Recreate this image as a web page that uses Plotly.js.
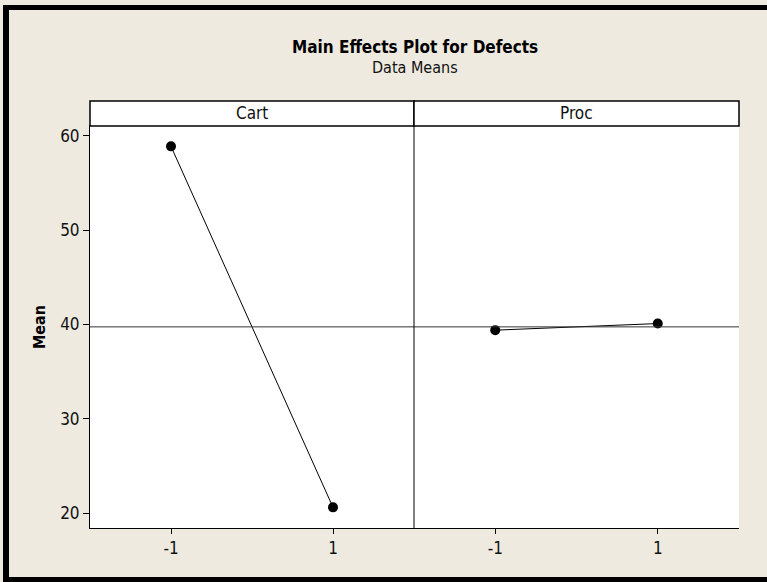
<!DOCTYPE html>
<html>
<head>
<meta charset="utf-8">
<script src="https://cdn.plot.ly/plotly-3.0.1.min.js"></script>
<style>
  html, body { margin: 0; padding: 0; background: #EEEAE0; overflow: hidden; }
  #wrap { position: relative; width: 767px; height: 582px; overflow: hidden; }
  #chart { position: absolute; left: 0; top: 0; width: 767px; height: 582px; }
  #frame { position: absolute; left: 3px; top: 5px; width: 764px; height: 577px;
           border-left: 6px solid #000; border-top: 5px solid #000; border-bottom: 5px solid #000;
           box-sizing: border-box; pointer-events: none; }
</style>
</head>
<body>
<div id="wrap"><div id="chart"></div><div id="frame"></div></div>
<script>
// ---- data ----
const factors = ["Cart", "Proc"];
const levels = [-1, 1];
const levelLabels = ["-1", "1"];
const cartMeans = [58.9, 20.6];
const procMeans = [39.4, 40.1];
const yTicks = [20, 30, 40, 50, 60];

const FONT = "'Liberation Sans Narrow', 'Arial Narrow', 'DejaVu Sans Condensed', sans-serif";
const grandMean = (cartMeans.reduce((a,b)=>a+b,0) + procMeans.reduce((a,b)=>a+b,0)) / 4;

const traceStyle = {
  mode: "lines+markers",
  line: { color: "#000", width: 1 },
  marker: { color: "#000", size: 10 },
  hoverinfo: "x+y",
  showlegend: false
};

const traces = [
  Object.assign({ x: levels, y: cartMeans, xaxis: "x", yaxis: "y" }, traceStyle),
  Object.assign({ x: levels, y: procMeans, xaxis: "x2", yaxis: "y" }, traceStyle)
];

const split = (414 - 90) / 649;
const stripH = 25 / 402;

const xCommon = {
  range: [-2, 2], tickvals: levels, ticktext: levelLabels,
  ticks: "outside", ticklen: 5, tickcolor: "#000", tickwidth: 1,
  showline: true, linecolor: "#000", linewidth: 1, mirror: true,
  showgrid: false, zeroline: false,
  tickfont: { family: FONT, size: 17, color: "#111" }, fixedrange: true
};

const layout = {
  width: 767, height: 582,
  paper_bgcolor: "#EEEAE0", plot_bgcolor: "#FFFFFF",
  margin: { l: 90, r: 28, t: 126, b: 54 },
  showlegend: false,
  xaxis: Object.assign({ domain: [0, split], anchor: "y" }, xCommon),
  xaxis2: Object.assign({ domain: [split, 1], anchor: "y" }, xCommon),
  yaxis: {
    range: [18.41, 61.06], tickvals: yTicks,
    ticks: "outside", ticklen: 6, tickcolor: "#000", tickwidth: 1,
    showline: true, linecolor: "#000", linewidth: 1, mirror: false,
    showgrid: false, zeroline: false,
    tickfont: { family: FONT, size: 17, color: "#111" },
    title: { text: "<b>Mean</b>", font: { family: FONT, size: 16, color: "#000" }, standoff: 10 },
    fixedrange: true
  },
  shapes: [
    { type: "line", xref: "paper", yref: "y", x0: 0, x1: 1, y0: grandMean, y1: grandMean,
      line: { color: "#333", width: 1 } },
    { type: "rect", xref: "paper", yref: "paper", x0: 0, x1: split, y0: 1, y1: 1 + stripH,
      fillcolor: "#FFFFFF", line: { color: "#000", width: 1.5 } },
    { type: "rect", xref: "paper", yref: "paper", x0: split, x1: 1, y0: 1, y1: 1 + stripH,
      fillcolor: "#FFFFFF", line: { color: "#000", width: 1.5 } },
    { type: "line", xref: "paper", yref: "paper", x0: split, x1: split, y0: 0, y1: 1,
      line: { color: "#000", width: 1 } }
  ],
  annotations: [
    { text: "<b>Main Effects Plot for Defects</b>", xref: "paper", yref: "paper",
      x: 0.5, y: 1 + 79 / 402, xanchor: "center", yanchor: "middle", showarrow: false,
      font: { family: FONT, size: 17, color: "#000" } },
    { text: "Data Means", xref: "paper", yref: "paper",
      x: 0.5, y: 1 + 59 / 402, xanchor: "center", yanchor: "middle", showarrow: false,
      font: { family: FONT, size: 16, color: "#111" } },
    { text: factors[0], xref: "paper", yref: "paper",
      x: split / 2, y: 1 + stripH / 2, xanchor: "center", yanchor: "middle", showarrow: false,
      font: { family: FONT, size: 17, color: "#111" } },
    { text: factors[1], xref: "paper", yref: "paper",
      x: (split + 1) / 2, y: 1 + stripH / 2, xanchor: "center", yanchor: "middle", showarrow: false,
      font: { family: FONT, size: 17, color: "#111" } }
  ]
};

Plotly.newPlot("chart", traces, layout, { displayModeBar: false, staticPlot: true });
</script>
</body>
</html>
